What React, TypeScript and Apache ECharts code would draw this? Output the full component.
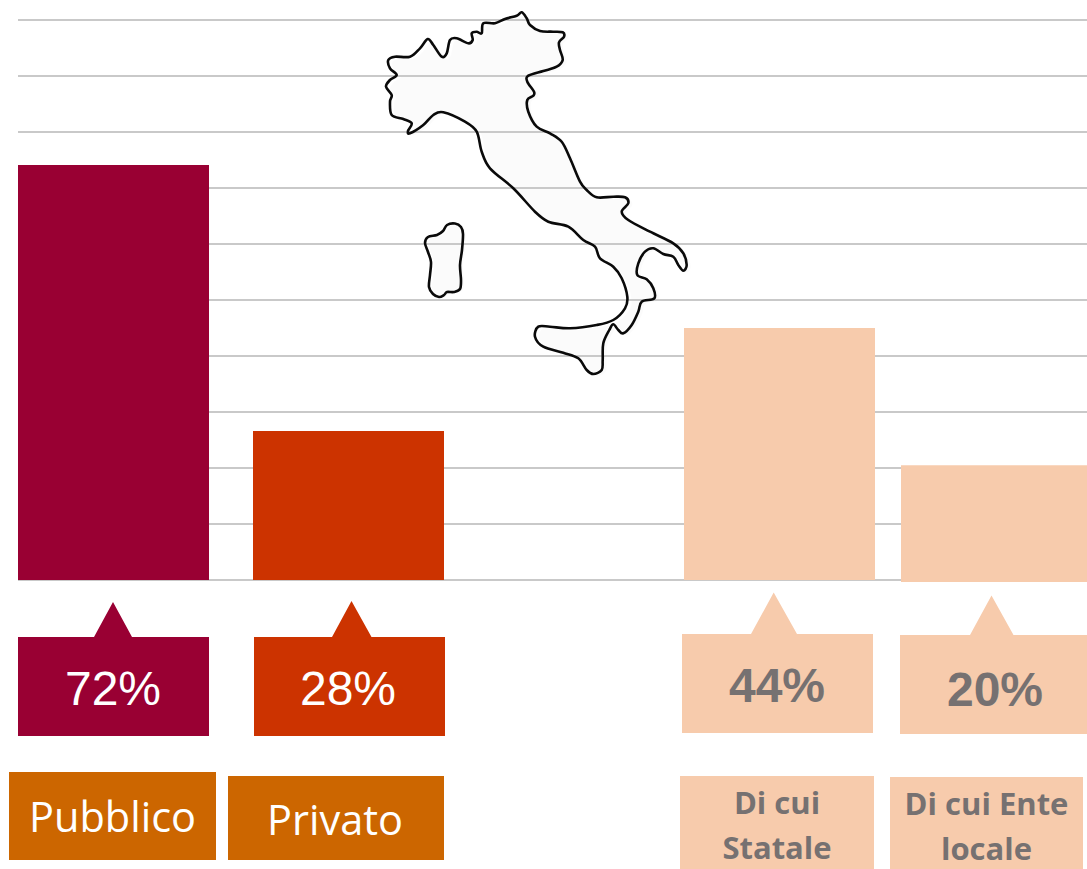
import React, { useEffect, useRef } from "react";
import * as echarts from "echarts";

// Data
const categories = ["Pubblico", "Privato", "Di cui Statale", "Di cui Ente locale"];
const barValues = [74.1, 26.6, 45, 20.5];
const shareLabels = ["72%", "28%", "44%", "20%"];
const tickValues = [0, 10, 20, 30, 40, 50, 60, 70, 80, 90, 100];

// Layout (pixels) and styling
const W = 1087;
const H = 869;
const GRID = { left: 18, top: 20, width: 1069, height: 560 };
const barCenters = [95.5, 330.5, 761.5, 978.5];
const barColors = ["#990033", "#CC3300", "#F7CBAC", "#F7CBAC"];
const calloutBoxes = [
  { x: 18, y: 637, w: 191, h: 99, tip: [113, 602], base: [94, 132], tx: 113, ty: 688, color: "#990033", text: "#FFFFFF", weight: 400 },
  { x: 254, y: 637, w: 191, h: 99, tip: [351.5, 601], base: [332, 371.5], tx: 348, ty: 688, color: "#CC3300", text: "#FFFFFF", weight: 400 },
  { x: 682, y: 634, w: 191, h: 99, tip: [773.7, 592.5], base: [751, 797], tx: 777, ty: 685.5, color: "#F7CBAC", text: "#767171", weight: 700 },
  { x: 900, y: 635, w: 187, h: 99, tip: [991.5, 595.5], base: [970, 1013.5], tx: 995, ty: 689, color: "#F7CBAC", text: "#767171", weight: 700 },
];
const labelBoxes = [
  { x: 9, y: 772, w: 207, h: 88, color: "#CC6600", text: "#FFFFFF", weight: 400, size: 41.5, lines: ["Pubblico"], cx: 112.5, ys: [816] },
  { x: 228, y: 776, w: 216, h: 84, color: "#CC6600", text: "#FFFFFF", weight: 400, size: 41.5, lines: ["Privato"], cx: 335, ys: [819] },
  { x: 680, y: 776, w: 194, h: 93, color: "#F7CBAC", text: "#767171", weight: 700, size: 31, lines: ["Di cui", "Statale"], cx: 777, ys: [802, 847] },
  { x: 890, y: 777, w: 193, h: 92, color: "#F7CBAC", text: "#767171", weight: 700, size: 31, lines: ["Di cui Ente", "locale"], cx: 986.5, ys: [803, 848] },
];

// Hand-traced outline of the peninsula (decoration, not data)
const italyOutline = [
  [521.7, 12.3], [526.7, 18.3], [530, 25], [540, 31], [553, 31.7], [562.7, 32.3], [564, 36.7], [559, 42.3], [560, 50], [562.7, 60],
  [556.7, 66.7], [543.3, 71], [528.3, 75.7], [527.3, 81.7], [534, 91.7], [533.3, 95.7], [527.3, 100], [528.3, 111.7], [536.7, 126.7], [550, 133.3],
  [561.7, 141.7], [570, 158.3], [580, 181.7], [586.7, 190], [596.7, 197.3], [613.3, 196.7], [625, 197.3], [628.3, 203.3], [621.7, 211.7], [628.3, 220],
  [650, 231.7], [673.3, 243.3], [683.3, 253.3], [686.7, 265], [683.3, 270.7], [678.3, 265], [673.3, 256.7], [663.3, 254], [653.3, 248.3], [645, 251.7],
  [638.3, 263.3], [637.3, 275], [646.7, 279.3], [653.3, 288.3], [654.3, 298.3], [641.7, 301.7], [638.3, 311.7], [631.7, 325], [623.3, 333.3], [618.3, 330],
  [613.3, 324.3], [609.3, 330], [603.3, 343.3], [602.7, 360], [601.7, 370], [593.3, 374], [586.7, 370], [578.3, 358.3], [563.3, 352.7], [543.3, 346.7],
  [535, 336.7], [538.3, 326.7], [550, 326.7], [570, 328.3], [596.7, 325], [613.3, 320], [625, 308.3], [627.3, 296.7], [621.7, 278.3], [613.3, 266.7],
  [600, 258.3], [595, 246.7], [583.3, 240], [568.3, 226.7], [548.3, 221.7], [535, 211.7], [513.3, 188.3], [490, 168.3], [481.7, 151.7], [476.7, 131.7],
  [465, 121.7], [443.3, 112.3], [433.3, 115], [423.3, 125], [410, 133.3], [408, 131], [411.7, 123.3], [403.3, 119], [391.7, 115], [390, 101.7],
  [391.7, 95], [386, 86.7], [390, 80], [396.7, 75], [390, 68.3], [388.3, 60], [395, 56.7], [410, 56.7], [420, 48.3], [427.7, 39],
  [433.3, 45], [441.7, 56.7], [446.7, 53.3], [450, 40], [456.7, 38.3], [468.3, 43.3], [472.7, 40], [471.7, 33.3], [476.7, 31.7], [481.7, 33.3],
  [483.3, 23.3], [495, 23.3], [505, 19], [516.7, 15.7],
];
const sardiniaOutline = [
  [425, 243], [428, 237], [437, 235], [443, 231], [447, 225], [455, 223.5], [461, 227], [463, 234], [462, 250], [460, 265],
  [461, 280], [460, 289], [454, 292], [447, 292], [444, 295], [439, 297], [433, 294], [429, 287], [430, 275], [431, 262], [428, 252],
];

// Closed Catmull-Rom curve through the traced points, as an SVG path
function smoothPath(pts: number[][]): string {
  const n = pts.length;
  let d = `M${pts[0][0]} ${pts[0][1]}`;
  for (let i = 0; i < n; i++) {
    const p0 = pts[(i - 1 + n) % n];
    const p1 = pts[i];
    const p2 = pts[(i + 1) % n];
    const p3 = pts[(i + 2) % n];
    const c1x = p1[0] + (p2[0] - p0[0]) / 6;
    const c1y = p1[1] + (p2[1] - p0[1]) / 6;
    const c2x = p2[0] - (p3[0] - p1[0]) / 6;
    const c2y = p2[1] - (p3[1] - p1[1]) / 6;
    d += `C${c1x.toFixed(2)} ${c1y.toFixed(2)} ${c2x.toFixed(2)} ${c2y.toFixed(2)} ${p2[0]} ${p2[1]}`;
  }
  return d + "Z";
}

echarts.graphic.registerShape("italyMain", echarts.graphic.extendPath(smoothPath(italyOutline), {}) as any);
echarts.graphic.registerShape("italySardinia", echarts.graphic.extendPath(smoothPath(sardiniaOutline), {}) as any);

function buildGraphics(): any[] {
  const out: any[] = [];
  const softFill = { fill: "rgba(0,0,0,0.016)", shadowBlur: 6, shadowColor: "rgba(0,0,0,0.016)", stroke: "none" };
  const outline = { fill: "none", stroke: "#0A0A0A", lineWidth: 2.6, lineJoin: "round" };
  out.push({ type: "italyMain", silent: true, x: 4, y: 2, style: softFill });
  out.push({ type: "italySardinia", silent: true, x: 3, y: 1, style: softFill });
  out.push({ type: "italyMain", silent: true, x: 0, y: 0, z: 5, style: outline });
  out.push({ type: "italySardinia", silent: true, x: 0, y: 0, z: 5, style: outline });

  // The last column sits a touch lower than the axis line in the reference
  out.push({ type: "rect", silent: true, z: 5, shape: { x: 901, y: 579, width: 186, height: 3 }, style: { fill: barColors[3] } });

  calloutBoxes.forEach((b, i) => {
    const pts = [
      [b.x, b.y], [b.base[0], b.y], b.tip, [b.base[1], b.y], [b.x + b.w, b.y], [b.x + b.w, b.y + b.h], [b.x, b.y + b.h],
    ];
    out.push({ type: "polygon", silent: true, shape: { points: pts }, style: { fill: b.color } });
    out.push({
      type: "text", silent: true, x: b.tx, y: b.ty,
      style: { text: shareLabels[i], fill: b.text, align: "center", verticalAlign: "middle",
        font: `${b.weight} 48px "Liberation Sans", Arial, sans-serif` },
    });
  });

  labelBoxes.forEach((b) => {
    out.push({ type: "rect", silent: true, shape: { x: b.x, y: b.y, width: b.w, height: b.h }, style: { fill: b.color } });
    b.lines.forEach((line, j) => {
      out.push({
        type: "text", silent: true, x: b.cx, y: b.ys[j],
        style: { text: line, fill: b.text, align: "center", verticalAlign: "middle",
          font: `${b.weight} ${b.size}px "Open Sans", sans-serif` },
      });
    });
  });
  return out;
}

export default function App() {
  const ref = useRef<HTMLDivElement>(null);
  useEffect(() => {
    document.body.style.margin = "0";
    const chart = echarts.init(ref.current!, undefined, { renderer: "svg" });
    chart.setOption({
      animation: false,
      backgroundColor: "#FFFFFF",
      grid: { ...GRID, containLabel: false },
      xAxis: { type: "value", min: 0, max: GRID.width, show: false },
      yAxis: {
        type: "value",
        min: tickValues[0],
        max: tickValues[tickValues.length - 1],
        interval: 10,
        axisLine: { show: false },
        axisTick: { show: false },
        axisLabel: { show: false },
        splitLine: { show: true, lineStyle: { color: "#C9C9C9", width: 2 } },
      },
      series: [
        {
          type: "bar",
          name: "Quota",
          barWidth: 191,
          data: categories.map((name, i) => ({
            name,
            value: [barCenters[i], barValues[i]],
            itemStyle: { color: barColors[i] },
          })),
        },
      ],
      graphic: { elements: buildGraphics() },
    });
    return () => chart.dispose();
  }, []);
  return <div ref={ref} style={{ width: W, height: H, position: "absolute", left: 0, top: 0 }} />;
}
